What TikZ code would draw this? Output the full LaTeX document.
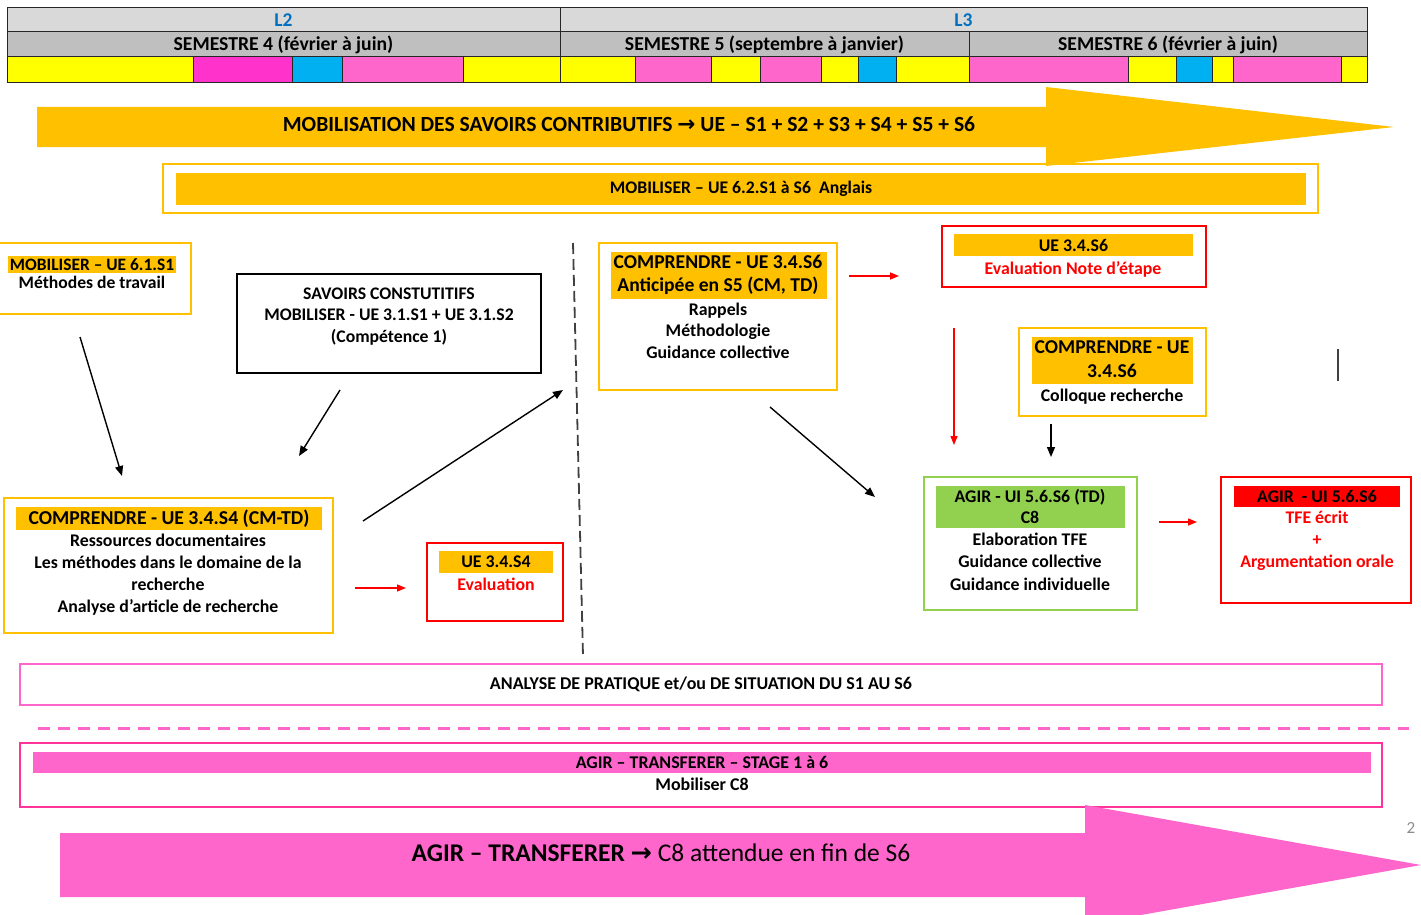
\documentclass[tikz,border=0pt]{standalone}
\usepackage{fontspec}
\setmainfont{Carlito}
\newfontfamily\symfont{DejaVu Sans}
\usetikzlibrary{arrows.meta}
\definecolor{orangeC}{HTML}{FFC000}
\definecolor{yellowC}{HTML}{FFFF00}
\definecolor{magC}{HTML}{FF33CC}
\definecolor{blueC}{HTML}{00B0F0}
\definecolor{pinkC}{HTML}{FF66CC}
\definecolor{grayA}{HTML}{D9D9D9}
\definecolor{grayB}{HTML}{BFBFBF}
\definecolor{blueT}{HTML}{0070C0}
\definecolor{greenC}{HTML}{92D050}
\definecolor{redC}{HTML}{FF0000}
\definecolor{pinkD}{HTML}{FF3399}
\definecolor{dashG}{HTML}{404040}
\newcommand\fz[1]{\fontsize{#1}{#1}\selectfont\bfseries}
\tikzset{
  rect/.style 2 args={anchor=north west, inner sep=0pt, outer sep=0pt, minimum width=#1, minimum height=#2},
  cell/.style={draw=black!85, line width=1pt},
  obox/.style={draw=orangeC, line width=2.4pt},
  rbox/.style={draw=redC, line width=2.4pt},
  gbox/.style={draw=greenC, line width=2.4pt},
  txt/.style={inner sep=0pt, anchor=mid, yshift=-3pt},
  blkarr/.style={draw=black, line width=1.4pt, -{Triangle[length=10pt,width=8pt]}},
  redarr/.style={draw=redC, line width=1.4pt, -{Triangle[length=9pt,width=7pt]}},
}
\begin{document}
\begin{tikzpicture}[x=1pt,y=-1pt]
\useasboundingbox (0,0) rectangle (1421,915);
\clip (0,0) rectangle (1421,915);
% ---------- table ----------
\node[rect={553}{24}, cell, fill=grayA, text=blueT, font=\fz{19.5}] (L2) at (7,8) {L2};
\node[rect={807}{24}, cell, fill=grayA, text=blueT, font=\fz{19.5}] (L3) at (560,8) {L3};
\node[rect={553}{25}, cell, fill=grayB, font=\fz{19.7}] (S4) at (7,32) {SEMESTRE 4 (février à juin)};
\node[rect={409}{25}, cell, fill=grayB, font=\fz{19.7}] (S5) at (560,32) {SEMESTRE 5 (septembre à janvier)};
\node[rect={398}{25}, cell, fill=grayB, font=\fz{19.7}] (S6) at (969,32) {SEMESTRE 6 (février à juin)};
\foreach \a/\b/\c [count=\i] in {7/193/yellowC, 193/292/magC, 292/342/blueC, 342/463/pinkC, 463/560/yellowC, 560/635/yellowC, 635/711/pinkC, 711/760/yellowC, 760/821/pinkC, 821/858/yellowC, 858/896/blueC, 896/969/yellowC, 969/1128/pinkC, 1128/1176/yellowC, 1176/1212/blueC, 1212/1233/yellowC, 1233/1341/pinkC, 1341/1367/yellowC}
  \node[rect={\b-\a}{26}, cell, fill=\c] (strip\i) at (\a,57) {};
% ---------- orange banner arrow ----------
\fill[orangeC] (37,107) -- (1046,107) -- (1046,87) -- (1394,127) -- (1046,166) -- (1046,147) -- (37,147) -- cycle;
\node[txt, font=\fz{21.6}] (mobtxt) at (629,126) {MOBILISATION DES SAVOIRS CONTRIBUTIFS {\symfont →} UE – S1 + S2 + S3 + S4 + S5 + S6};
% ---------- anglais ----------
\node[rect={1155}{49}, obox] (angB) at (163,164) {};
\node[rect={1130}{32}, fill=orangeC, font=\fz{17.7}] (angF) at (176,173) {MOBILISER – UE 6.2.S1 à S6\ \ Anglais};
% ---------- mobiliser 6.1 ----------
\node[rect={193}{71}, obox] (m61) at (-2,243) {};
\node[rect={168}{17}, fill=orangeC, font=\fz{17.4}] (m61h) at (8,256) {MOBILISER – UE 6.1.S1};
\node[txt, font=\fz{17.6}] (m61a) at (92,283) {Méthodes de travail};
% ---------- savoirs ----------
\node[rect={304}{99}, draw=black, line width=2.4pt] (sav) at (237,274) {};
\node[txt, font=\fz{17.7}] (sav1) at (389,294) {SAVOIRS CONSTUTITIFS};
\node[txt, font=\fz{17.7}] (sav2) at (389,315) {MOBILISER - UE 3.1.S1 + UE 3.1.S2};
\node[txt, font=\fz{17.7}] (sav3) at (389,337) {(Compétence 1)};
% ---------- comprendre S4 ----------
\node[rect={329}{135}, obox] (c4) at (4,498) {};
\node[rect={306}{23}, fill=orangeC, font=\fz{19.7}] (c4h) at (16,507) {COMPRENDRE - UE 3.4.S4 (CM-TD)};
\node[txt, font=\fz{17.8}] (c4a) at (168,541) {Ressources documentaires};
\node[txt, font=\fz{17.8}] (c4b) at (168,563) {Les méthodes dans le domaine de la};
\node[txt, font=\fz{17.8}] (c4c) at (168,585) {recherche};
\node[txt, font=\fz{17.8}] (c4d) at (168,607) {Analyse d’article de recherche};
% ---------- eval S4 ----------
\node[rect={136}{78}, rbox] (e4) at (427,543) {};
\node[rect={114}{22}, fill=orangeC, font=\fz{17.8}] (e4h) at (439,551) {UE 3.4.S4};
\node[txt, font=\fz{17.8}, text=redC] (e4a) at (496,585) {Evaluation};
% ---------- comprendre S6 (anticipée) ----------
\node[rect={238}{147}, obox] (c6) at (599,243) {};
\node[rect={216}{47}, fill=orangeC] (c6h) at (611,252) {};
\node[txt, font=\fz{19.6}] (c6h1) at (718,263) {COMPRENDRE - UE 3.4.S6};
\node[txt, font=\fz{19.6}] (c6h2) at (718,286) {Anticipée en S5 (CM, TD)};
\node[txt, font=\fz{17.8}] (c6a) at (718,310) {Rappels};
\node[txt, font=\fz{17.8}] (c6b) at (718,331) {Méthodologie};
\node[txt, font=\fz{17.8}] (c6c) at (718,353) {Guidance collective};
% ---------- eval note d'etape ----------
\node[rect={264}{61}, rbox] (en) at (942,226) {};
\node[rect={239}{22}, fill=orangeC, font=\fz{17.8}] (enh) at (954,234) {UE 3.4.S6};
\node[txt, font=\fz{17.8}, text=redC] (ena) at (1073,269) {Evaluation Note d’étape};
% ---------- colloque ----------
\node[rect={187}{88}, obox] (col) at (1019,328) {};
\node[rect={161}{47}, fill=orangeC] (colh) at (1032,337) {};
\node[txt, font=\fz{19.6}] (colh1) at (1112,348) {COMPRENDRE - UE};
\node[txt, font=\fz{19.6}] (colh2) at (1112,372) {3.4.S6};
\node[txt, font=\fz{17.8}] (cola) at (1112,396) {Colloque recherche};
% ---------- agir green ----------
\node[rect={213}{133}, gbox] (ag) at (924,477) {};
\node[rect={189}{42}, fill=greenC] (agh) at (936,486) {};
\node[txt, font=\fz{17.8}] (agh1) at (1030,497) {AGIR - UI 5.6.S6 (TD)};
\node[txt, font=\fz{17.8}] (agh2) at (1030,518) {C8};
\node[txt, font=\fz{17.8}] (aga) at (1030,540) {Elaboration TFE};
\node[txt, font=\fz{17.8}] (agb) at (1030,562) {Guidance collective};
\node[txt, font=\fz{17.8}] (agc) at (1030,585) {Guidance individuelle};
% ---------- TFE ----------
\node[rect={190}{126}, rbox] (tfe) at (1221,477) {};
\node[rect={166}{21}, fill=redC, font=\fz{17.8}] (tfeh) at (1234,486) {AGIR\ \ - UI 5.6.S6};
\node[txt, font=\fz{17.8}, text=redC] (tfea) at (1317,518) {TFE écrit};
\node[txt, font=\fz{17.8}, text=redC] (tfeb) at (1317,540) {+};
\node[txt, font=\fz{17.8}, text=redC] (tfec) at (1317,562) {Argumentation orale};
% ---------- connectors ----------
\coordinate (a1s) at (80,337);  \coordinate (a1e) at (122,476);
\coordinate (a2s) at (340,390); \coordinate (a2e) at (299,456);
\coordinate (a3s) at (363,521); \coordinate (a3e) at (563,390);
\coordinate (a4s) at (770,407); \coordinate (a4e) at (875,497);
\coordinate (a5s) at (1051,424); \coordinate (a5e) at (1051,457);
\coordinate (r1s) at (355,588); \coordinate (r1e) at (406,588);
\coordinate (r2s) at (849,276); \coordinate (r2e) at (899,276);
\coordinate (r3s) at (954,328); \coordinate (r3e) at (954,445);
\coordinate (r4s) at (1159,522); \coordinate (r4e) at (1197,522);
\coordinate (dls) at (573,243); \coordinate (dle) at (583,656);
\coordinate (sls) at (1338,349); \coordinate (sle) at (1338,381);
\draw[blkarr] (a1s) -- (a1e);
\draw[blkarr] (a2s) -- (a2e);
\draw[blkarr] (a3s) -- (a3e);
\draw[blkarr] (a4s) -- (a4e);
\draw[blkarr] (a5s) -- (a5e);
\draw[redarr] (r1s) -- (r1e);
\draw[redarr] (r2s) -- (r2e);
\draw[redarr] (r3s) -- (r3e);
\draw[redarr] (r4s) -- (r4e);
\draw[dashG, line width=1.8pt, dash pattern=on 11pt off 5pt] (dls) -- (dle);
\draw[dashG, line width=1.5pt] (sls) -- (sle);
% ---------- analyse ----------
\node[rect={1362}{41}, draw=pinkC, line width=2.4pt] (an) at (20,664) {};
\node[txt, font=\fz{18}] (ant) at (701,684) {ANALYSE DE PRATIQUE et/ou DE SITUATION DU S1 AU S6};
\coordinate (pds) at (38,728); \coordinate (pde) at (1409,728);
\draw[pinkC, line width=3pt, dash pattern=on 12pt off 8pt] (pds) -- (pde);
% ---------- stage ----------
\node[rect={1362}{64}, draw=pinkD, line width=2.4pt] (st) at (20,743) {};
\node[rect={1338}{21}, fill=pinkC, font=\fz{17.9}] (sth) at (33,752) {AGIR – TRANSFERER – STAGE 1 à 6};
\node[txt, font=\fz{17.9}] (sta) at (702,785) {Mobiliser C8};
% ---------- pink banner arrow ----------
\fill[pinkC] (60,833) -- (1085,833) -- (1085,805) -- (1421,865) -- (1085,925) -- (1085,897) -- (60,897) -- cycle;
\node[txt, font=\fontsize{25.5}{25.5}\selectfont] (agt) at (661,856) {\textbf{AGIR – TRANSFERER {\symfont →}} C8 attendue en fin de S6};
\node[txt, text=black!45, font=\fontsize{17}{17}\selectfont] (pg) at (1411,828) {2};
\end{tikzpicture}
\end{document}
